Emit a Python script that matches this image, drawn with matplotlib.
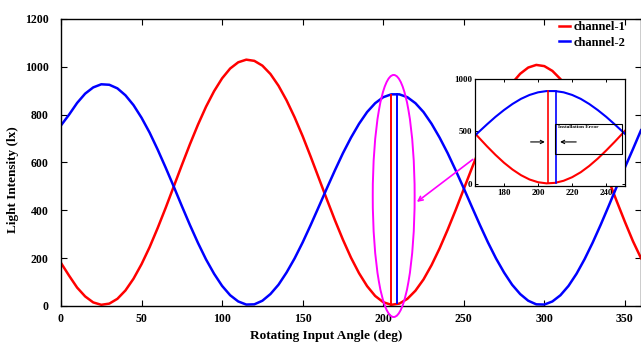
import matplotlib
matplotlib.use("Agg")
import matplotlib.pyplot as plt
from matplotlib.patches import Ellipse, Rectangle
import numpy as np

plt.rcParams['font.family'] = ['Liberation Serif', 'DejaVu Serif']
plt.rcParams['font.weight'] = 'bold'

angle = list(range(0, 361, 5))
channel_1 = [180, 127, 77, 40, 15, 5, 10, 30, 65, 114, 175, 246, 326, 411, 500,
             589, 676, 758, 833, 898, 952, 993, 1019, 1030, 1025, 1005, 970, 921,
             860, 789, 710, 624, 535, 446, 359, 277, 202, 137, 83, 42, 16, 5,
             10, 30, 64, 111, 171, 241, 319, 402, 489, 576, 661, 742, 815, 879,
             932, 971, 997, 1008, 1003, 983, 949, 902, 842, 772, 694, 611, 524,
             437, 352, 271, 200]
channel_2 = [755, 800, 849, 888, 914, 927, 925, 910, 881, 840, 787, 725, 654, 578,
             499, 418, 339, 264, 195, 135, 84, 45, 19, 6, 7, 22, 50, 89, 140, 199,
             266, 339, 415, 492, 567, 639, 704, 762, 811, 848, 873, 885, 885, 873,
             848, 811, 762, 704, 639, 567, 492, 415, 339, 266, 199, 140, 89, 50,
             22, 7, 6, 19, 45, 84, 135, 196, 265, 340, 419, 500, 579, 656, 735]

x_ticks = [0, 50, 100, 150, 200, 250, 300, 350]
y_ticks = [0, 200, 400, 600, 800, 1000, 1200]
inset_x_ticks = [180, 200, 220, 240]
inset_y_ticks = [0, 500, 1000]

# marker lines (angle, bottom, top)
red_mark = (205.1, 5, 882)
blue_mark = (208.6, 12, 886)

fig = plt.figure(figsize=(6.41, 3.48), dpi=100)
ax = fig.add_axes([61/641, 42/348, 580/641, 287/348])

ax.plot(angle, channel_1, color='#ff0000', lw=1.8, label='channel-1')
ax.plot(angle, channel_2, color='#0000ff', lw=1.8, label='channel-2')
ax.plot([red_mark[0]]*2, red_mark[1:], color='#ff0000', lw=1.4)
ax.plot([blue_mark[0]]*2, blue_mark[1:], color='#0000ff', lw=1.4)

ax.add_patch(Ellipse((206.5, 460), 26, 1012, fill=False, edgecolor='#ff00ff',
                     lw=1.4, clip_on=False, zorder=5))
ax.annotate('', xy=(219.5, 428), xytext=(257, 620),
            arrowprops=dict(arrowstyle='->', color='#ff00ff', lw=1.2,
                            mutation_scale=8), zorder=6)

ax.set_xlim(0, 360)
ax.set_ylim(0, 1200)
ax.set_xticks(x_ticks)
ax.set_yticks(y_ticks)
ax.tick_params(direction='in', top=True, right=True, labelsize=8.5, length=4,
               width=0.8)
ax.tick_params(axis='y', pad=9)
ax.tick_params(axis='x', pad=5)
for s in ax.spines.values():
    s.set_linewidth(1.0)
ax.set_xlabel('Rotating Input Angle (deg)', fontsize=9.5, fontweight='bold')
ax.set_ylabel('Light Intensity (lx)', fontsize=9.5, fontweight='bold')
ax.xaxis.set_label_coords((326-61)/580, -(330-306)/287)
ax.yaxis.set_label_coords(-(61-19)/580, (306-180)/287)

leg = ax.legend(loc='upper left', bbox_to_anchor=(559/641, 1-21/348),
                bbox_transform=fig.transFigure, frameon=False, fontsize=9,
                handlelength=0.9, handletextpad=0.25, labelspacing=0.3,
                borderaxespad=0, borderpad=0)

# inset
ins = fig.add_axes([475/641, (348-186)/348, 150/641, 107/348])
ins.set_facecolor('white')
ins.plot(angle, channel_1, color='#ff0000', lw=1.5)
ins.plot(angle, channel_2, color='#0000ff', lw=1.5)
ins.plot([red_mark[0] + 1.0]*2, red_mark[1:], color='#ff0000', lw=1.2)
ins.plot([blue_mark[0] + 2.0]*2, blue_mark[1:], color='#0000ff', lw=1.2)
ins.set_xlim(163, 251)
ins.set_ylim(-20, 1000)
ins.set_xticks(inset_x_ticks)
ins.set_yticks(inset_y_ticks)
ins.tick_params(direction='in', top=True, right=True, labelsize=6.5, length=2.5,
                width=0.7, pad=2)
for s in ins.spines.values():
    s.set_linewidth(0.9)
ins.add_patch(Rectangle((210.1, 285), 39.2, 290, fill=False, edgecolor='black',
                        lw=0.8, zorder=4))
ins.text(211.5, 560, 'Installation Error', fontsize=3.8, fontweight='bold',
         va='top', ha='left')
ins.annotate('', xy=(205.6, 400), xytext=(194, 400),
             arrowprops=dict(arrowstyle='->', color='black', lw=0.8,
                             mutation_scale=6))
ins.annotate('', xy=(211.3, 400), xytext=(224, 400),
             arrowprops=dict(arrowstyle='->', color='black', lw=0.8,
                             mutation_scale=6))

fig.savefig('out.png', dpi=100)
